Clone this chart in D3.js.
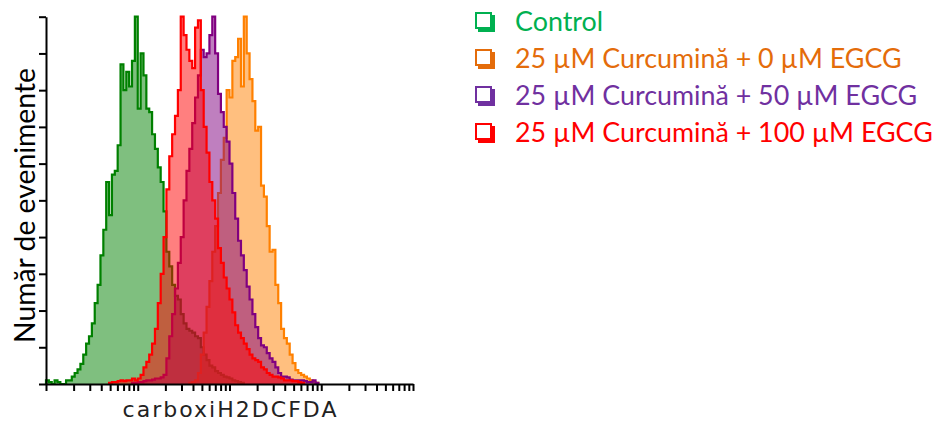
<!DOCTYPE html>
<html><head><meta charset="utf-8">
<script src="https://cdn.jsdelivr.net/npm/d3@7"></script>
<style>body{margin:0;background:#fff} svg{display:block}</style>
</head><body>
<svg id="c" width="936" height="423"></svg>
<script>
// ---------- data ----------
const N_BINS = 128;                 // histogram channels over the log axis
const X_DOMAIN = [1, 10000];
const Y_DOMAIN = [0, 100];          // % of mode
const yTickValues = [0, 10, 20, 30, 40, 50, 60, 70, 80, 90, 100];
const xTickValues = [1,2,3,4,5,6,7,8,9,10,20,30,40,50,60,70,80,90,
  100,200,300,400,500,600,700,800,900,1000,2000,3000,4000,5000,6000,7000,8000,9000,10000];

const seriesNames = ["Control", "25 µM Curcumină + 0 µM EGCG", "25 µM Curcumină + 50 µM EGCG", "25 µM Curcumină + 100 µM EGCG"];
const lineColors = ["#008000", "#ff8000", "#800080", "#ff0000"];
const legendColors = ["#00b050", "#e46c0a", "#7030a0", "#ff0000"];

const controlStart = 0;
const controlCounts = [1, 0.5, 0, 1, 0.5, 0, 0, 1, 1, 2, 3, 4, 5.5, 8, 11, 13, 16.5, 22, 27, 35,
  42, 55, 46, 57, 58, 65, 87, 80, 85, 81, 88, 100, 75, 90, 84, 75, 74, 68, 64, 59,
  55, 47, 36, 32, 27, 24, 23, 19, 16.5, 15, 14.5, 14, 13, 12.5, 10, 8, 6.5, 5, 4.5, 3.5,
  3, 2.5, 2, 1.8, 1.5, 1, 0.8, 0.5, 0.3];

const egcg0Start = 50;
const egcg0Counts = [0.3, 0.5, 1, 3, 8, 14, 21, 28, 36, 43, 52, 61, 67, 80, 78, 88, 89, 94, 81, 100,
  90, 83, 77, 69, 70, 54, 51, 43, 36, 36.5, 27, 22, 15, 12.5, 11, 8, 5.7, 3.8, 3, 2.5,
  2, 1.5, 1, 0.5, 0.3];

const egcg50Start = 30;
const egcg50Counts = [0.3, 0.3, 0.5, 0.5, 0.8, 1, 1, 1.2, 1.5, 1.5, 1.8, 2.5, 7, 13, 19, 26, 33, 40, 50, 58,
  64, 71, 78, 84, 91, 89, 90, 95, 100, 90, 79, 74, 70, 66, 60, 52, 45, 39, 35, 31,
  26.5, 23, 19, 15.5, 12.5, 10.5, 10, 8.4, 7, 6, 4.5, 3, 2, 2, 1.8, 1.2, 1, 1, 1, 1,
  0.8, 0.5, 0.5, 1, 0.3];

const egcg100Start = 22;
const egcg100Counts = [0.3, 0.5, 0.5, 0.8, 1, 0.8, 1, 1, 1.5, 1, 1.5, 2.5, 4.5, 6, 8, 11, 15, 22, 30, 40,
  53, 62, 68, 73, 80, 100, 95, 91, 88, 86, 97, 99, 80, 70, 63, 55, 50, 45, 37, 33,
  29, 26, 23, 19.5, 16, 14, 12.5, 11, 9.5, 8, 7, 6.5, 6, 4.5, 4, 3, 2.5, 2, 2, 1.8,
  1.5, 1, 1, 1, 0.8, 0.8, 0.5, 0.3];

const seriesStarts = [controlStart, egcg0Start, egcg50Start, egcg100Start];
const seriesCounts = [controlCounts, egcg0Counts, egcg50Counts, egcg100Counts];

// ---------- drawing ----------
const svg = d3.select("#c");
const x = d3.scaleLog().domain(X_DOMAIN).range([46, 413]);
const y = d3.scaleLinear().domain(Y_DOMAIN).range([384, 16.7]);
const edge = k => X_DOMAIN[0] * Math.pow(X_DOMAIN[1] / X_DOMAIN[0], k / N_BINS);

const area = d3.area().x(d => x(d.x)).y0(y(0)).y1(d => y(d.y)).curve(d3.curveStepAfter);
const line = d3.line().x(d => x(d.x)).y(d => y(d.y)).curve(d3.curveStepAfter);

seriesCounts.forEach((counts, si) => {
  const start = seriesStarts[si];
  const pts = counts.map((c, i) => ({x: edge(start + i), y: c}));
  pts.push({x: edge(start + counts.length), y: counts[counts.length - 1]});
  const linePts = [{x: edge(start), y: 0}, ...pts.slice(0, -1),
    {x: edge(start + counts.length), y: counts[counts.length - 1]},
    {x: edge(start + counts.length), y: 0}];
  const g = svg.append("g");
  g.append("path").datum(pts).attr("d", area)
    .attr("fill", lineColors[si]).attr("fill-opacity", 0.5);
  g.append("path").datum(linePts).attr("d", line)
    .attr("fill", "none").attr("stroke", lineColors[si]).attr("stroke-width", 2.2);
});

// axes
svg.append("g").attr("transform", "translate(46,0)")
  .call(d3.axisLeft(y).tickValues(yTickValues).tickSize(7).tickSizeOuter(0).tickFormat(""));
svg.append("g").attr("transform", "translate(0,384)")
  .call(d3.axisBottom(x).tickValues(xTickValues).tickSize(7).tickSizeOuter(0).tickFormat(""));
svg.selectAll(".domain, .tick line").attr("stroke", "#000").attr("stroke-width", 2);

// x label
svg.append("text").attr("x", 229.5).attr("y", 417).attr("text-anchor", "middle")
  .attr("font-family", "DejaVu Sans").attr("font-size", 22).attr("fill", "#222")
  .attr("textLength", 214).attr("lengthAdjust", "spacing").text("carboxiH2DCFDA");

// y label
const yl = svg.append("text").attr("transform", "translate(35,205.5) rotate(-90)")
  .attr("text-anchor", "middle").attr("font-family", "Lato").attr("font-size", 30)
  .attr("fill", "#000").text("Număr de evenimente");
const ylw = yl.node().getComputedTextLength();
yl.attr("font-size", 30 * 275 / ylw);

// legend
const legBase = [31, 68, 105, 142];
const leg = svg.append("g");
const texts = seriesNames.map((n, i) => leg.append("text").attr("x", 515).attr("y", legBase[i])
  .attr("font-family", "Lato").attr("font-size", 30).attr("fill", legendColors[i]).text(n));
const maxW = d3.max(texts, t => t.node().getComputedTextLength());
texts.forEach(t => t.attr("font-size", 30 * 418 / maxW));
seriesNames.forEach((n, i) => {
  const top = legBase[i] - 19;
  leg.append("rect").attr("x", 476).attr("y", top + 1).attr("width", 15).attr("height", 15)
    .attr("fill", "#fff").attr("stroke", legendColors[i]).attr("stroke-width", 2);
  leg.append("path")
    .attr("d", `M${492},${top + 3}h3v${17}h-17v-3h14z`)
    .attr("fill", legendColors[i]);
});
</script>
</body></html>
